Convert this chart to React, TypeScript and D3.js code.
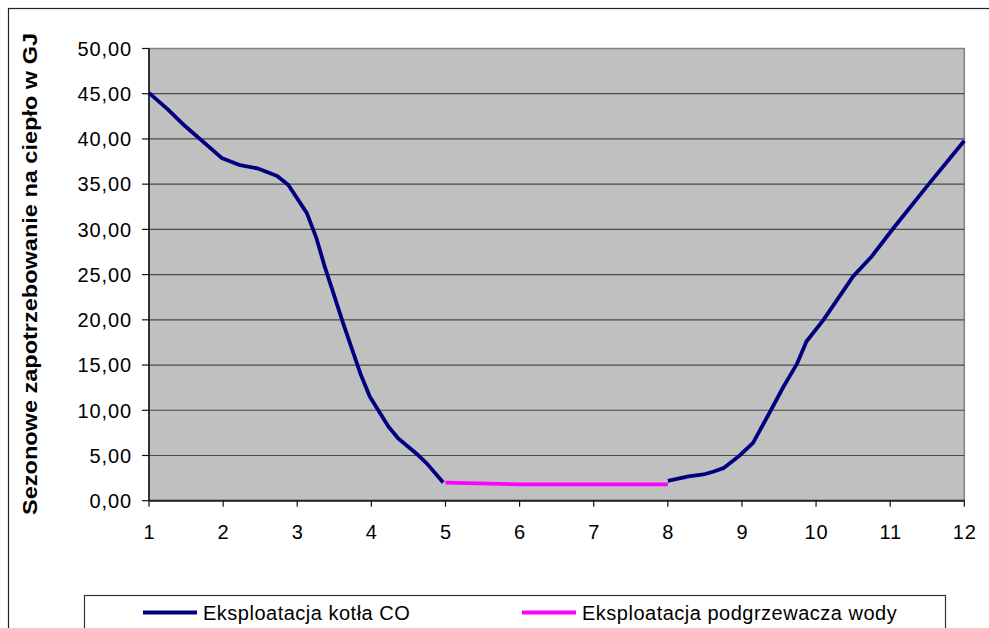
import React from "react";
import * as d3 from "d3";

const xTicks = [1, 2, 3, 4, 5, 6, 7, 8, 9, 10, 11, 12];
const yTicks = [0, 5, 10, 15, 20, 25, 30, 35, 40, 45, 50];

const boilerX1 = [1, 1.25, 1.49, 1.98, 2.23, 2.46, 2.73, 2.88, 3.13, 3.26, 3.37, 3.49, 3.62, 3.85, 3.98, 4.23, 4.36, 4.61, 4.75, 4.97];
const boilerY1 = [45.1, 43.3, 41.4, 37.9, 37.1, 36.75, 35.9, 34.9, 31.8, 29.0, 25.9, 22.9, 19.6, 14.1, 11.5, 8.2, 6.9, 5.2, 4.1, 2.0];

const boilerX2 = [8.0, 8.28, 8.48, 8.61, 8.75, 8.97, 9.15, 9.37, 9.56, 9.74, 9.87, 10.1, 10.5, 10.75, 11.04, 11.49, 12.0];
const boilerY2 = [2.2, 2.7, 2.9, 3.2, 3.6, 5.0, 6.4, 9.7, 12.6, 15.1, 17.6, 20.0, 24.8, 27.0, 30.1, 34.7, 39.8];

const heaterX = [5, 6, 7, 8];
const heaterY = [2.0, 1.8, 1.8, 1.8];

const seriesNames = ["Eksploatacja kotła CO", "Eksploatacja podgrzewacza wody"];
const yTitle = "Sezonowe zapotrzebowanie na ciepło w GJ";

const BLUE = "#000080";
const MAGENTA = "#ff00ff";

export default function App() {
  const left = 149, right = 964.3, top = 48.5, bottom = 500.7;
  const x = d3.scaleLinear().domain([1, 12]).range([left, right]);
  const y = d3.scaleLinear().domain([0, 50]).range([bottom, top]);
  const line = d3
    .line<[number, number]>()
    .x((d) => x(d[0]))
    .y((d) => y(d[1]))
    .curve(d3.curveLinear);
  const zip = (a: number[], b: number[]) => a.map((v, i) => [v, b[i]] as [number, number]);
  const fmt = (v: number) => v.toFixed(2).replace(".", ",");
  const font = "'Liberation Sans', Arial, sans-serif";

  return (
    <svg
      width={989}
      height={628}
      style={{ position: "absolute", left: 0, top: 0, background: "#fff" }}
      fontFamily={font}
    >
      <rect x={8.5} y={8.5} width={1200} height={800} fill="#fff" stroke="#222" strokeWidth={1.2} />
      <rect x={left} y={top} width={right - left} height={bottom - top} fill="#c0c0c0" stroke="#808080" strokeWidth={1.5} />
      {yTicks.filter((t) => t > 0 && t < 50).map((t) => (
        <line key={"g" + t} x1={left} x2={right} y1={y(t)} y2={y(t)} stroke="#4a4a4a" strokeWidth={1.2} />
      ))}
      <line x1={left} x2={left} y1={top} y2={bottom} stroke="#111" strokeWidth={1.5} />
      <line x1={left} x2={right} y1={bottom} y2={bottom} stroke="#222" strokeWidth={2} />
      {yTicks.map((t) => (
        <g key={"y" + t}>
          <line x1={left - 7} x2={left} y1={y(t)} y2={y(t)} stroke="#111" strokeWidth={1.2} />
          <text x={132} y={y(t) + 7.3} textAnchor="end" fontSize={20} letterSpacing={0.9} fill="#000">
            {fmt(t)}
          </text>
        </g>
      ))}
      {xTicks.map((t) => (
        <g key={"x" + t}>
          <line x1={x(t)} x2={x(t)} y1={bottom} y2={bottom + 6} stroke="#111" strokeWidth={1.2} />
          <text x={x(t) + 0.5} y={538.5} textAnchor="middle" fontSize={20} letterSpacing={0.9} fill="#000">
            {t}
          </text>
        </g>
      ))}
      <path d={line(zip(boilerX1, boilerY1)) || ""} fill="none" stroke={BLUE} strokeWidth={3.8} strokeLinejoin="round" />
      <path d={line(zip(boilerX2, boilerY2)) || ""} fill="none" stroke={BLUE} strokeWidth={3.8} strokeLinejoin="round" />
      <path d={line(zip(heaterX, heaterY)) || ""} fill="none" stroke={MAGENTA} strokeWidth={3.8} strokeLinejoin="round" />
      <text
        transform={`translate(36.5,274) rotate(-90)`}
        textAnchor="middle"
        fontSize={21}
        fontWeight="bold"
        textLength={482}
        lengthAdjust="spacingAndGlyphs"
        fill="#000"
      >
        {yTitle}
      </text>
      <rect x={84.5} y={595.5} width={861} height={60} fill="#fff" stroke="#333" strokeWidth={1.2} />
      <line x1={143} x2={197} y1={612.5} y2={612.5} stroke={BLUE} strokeWidth={3.8} />
      <text x={203} y={619.5} fontSize={20} letterSpacing={0.5} fill="#000">{seriesNames[0]}</text>
      <line x1={522} x2={576} y1={612.5} y2={612.5} stroke={MAGENTA} strokeWidth={3.8} />
      <text x={582} y={619.5} fontSize={20} letterSpacing={0.5} fill="#000">{seriesNames[1]}</text>
    </svg>
  );
}
